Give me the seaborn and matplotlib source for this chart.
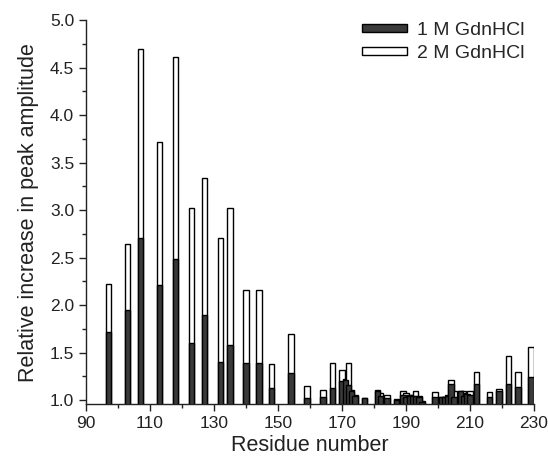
import numpy as np
import pandas as pd
import matplotlib
matplotlib.use('Agg')
import matplotlib.pyplot as plt
from matplotlib.patches import Patch
from matplotlib.ticker import FormatStrFormatter
import seaborn as sns

# residue numbers and peak amplitude increase
residue = [97, 103, 107, 113, 118, 123, 127, 132, 135, 140,
           144, 148, 154, 159, 164, 167, 170, 171, 172, 173,
           174, 177, 181, 182, 184, 187, 189, 190, 191, 192,
           193, 194, 195, 199, 201, 202, 203, 204, 205, 207,
           208, 209, 210, 212, 216, 219, 222, 225, 229]
gdn_1m = [1.72, 1.95, 2.71, 2.21, 2.48, 1.60, 1.89, 1.40, 1.58, 1.39,
          1.39, 1.13, 1.28, 1.02, 1.03, 1.13, 1.20, 1.21, 1.16, 1.10,
          1.045, 1.02, 1.10, 1.045, 1.02, 1.005, 1.05, 1.035, 1.045, 1.04,
          1.045, 1.035, 0.98, 1.03, 1.03, 1.03, 1.045, 1.17, 1.035, 1.09,
          1.045, 1.06, 1.05, 1.17, 1.035, 1.09, 1.17, 1.14, 1.24]
gdn_2m = [2.22, 2.64, 4.70, 3.72, 4.61, 3.02, 3.34, 2.71, 3.02, 2.16,
          2.16, 1.38, 1.69, 1.15, 1.11, 1.39, 1.32, 1.22, 1.39, 1.105,
          1.05, 1.02, 1.11, 1.07, 1.05, 1.01, 1.095, 1.075, 1.05, 1.05,
          1.09, 1.04, 0.99, 1.08, 1.035, 1.035, 1.05, 1.21, 1.10, 1.10,
          1.09, 1.07, 1.10, 1.30, 1.08, 1.12, 1.46, 1.30, 1.56]
labels = ['1 M GdnHCl', '2 M GdnHCl']

df = pd.DataFrame({'residue': residue, '1M': gdn_1m, '2M': gdn_2m})

sns.set_style('ticks')
plt.rcParams['font.family'] = ['Liberation Sans', 'DejaVu Sans']

fig = plt.figure(figsize=(5.48, 4.62), dpi=100)
ax = fig.add_axes([0.157, 0.1245, 0.8175, 0.832])

dark = '#3a3a3a'
# white (2 M) bars behind, dark (1 M) bars in front
sns.barplot(data=df, x='residue', y='2M', native_scale=True, width=1.7,
            color='white', edgecolor='black', linewidth=1.0, saturation=1, ax=ax)
sns.barplot(data=df, x='residue', y='1M', native_scale=True, width=1.7,
            color=dark, edgecolor='black', linewidth=1.0, saturation=1, ax=ax)

ax.set_xlim(90, 230)
ax.set_ylim(0.953, 5.0)
ax.set_xticks(np.arange(90, 231, 20))
ax.set_xticks(np.arange(100, 230, 20), minor=True)
ax.xaxis.set_major_formatter(FormatStrFormatter('%d'))
ax.set_yticks(np.arange(1.0, 5.01, 0.5))
ax.set_yticks(np.arange(1.25, 5.0, 0.5), minor=True)
ax.yaxis.set_major_formatter(FormatStrFormatter('%.1f'))
ax.tick_params(which='major', direction='out', length=5, width=1,
               labelsize=12.5, colors='#222222')
ax.tick_params(which='minor', direction='out', length=3, width=1, colors='#222222')

ax.set_xlabel('Residue number', fontsize=15.5, labelpad=3, color='#222222')
ax.set_ylabel('Relative increase in peak amplitude', fontsize=15.5,
              labelpad=8, color='#222222')
sns.despine(ax=ax)
for s in ['left', 'bottom']:
    ax.spines[s].set_color('#222222')
    ax.spines[s].set_linewidth(1.0)

handles = [Patch(facecolor=dark, edgecolor='black', linewidth=1.0),
           Patch(facecolor='white', edgecolor='black', linewidth=1.0)]
ax.legend(handles, labels, loc='upper right', bbox_to_anchor=(0.995, 1.015),
          frameon=False, fontsize=14, handlelength=2.3, handleheight=0.3,
          handletextpad=0.5, labelspacing=0.3, borderaxespad=0)

fig.savefig('out.png', dpi=100)
